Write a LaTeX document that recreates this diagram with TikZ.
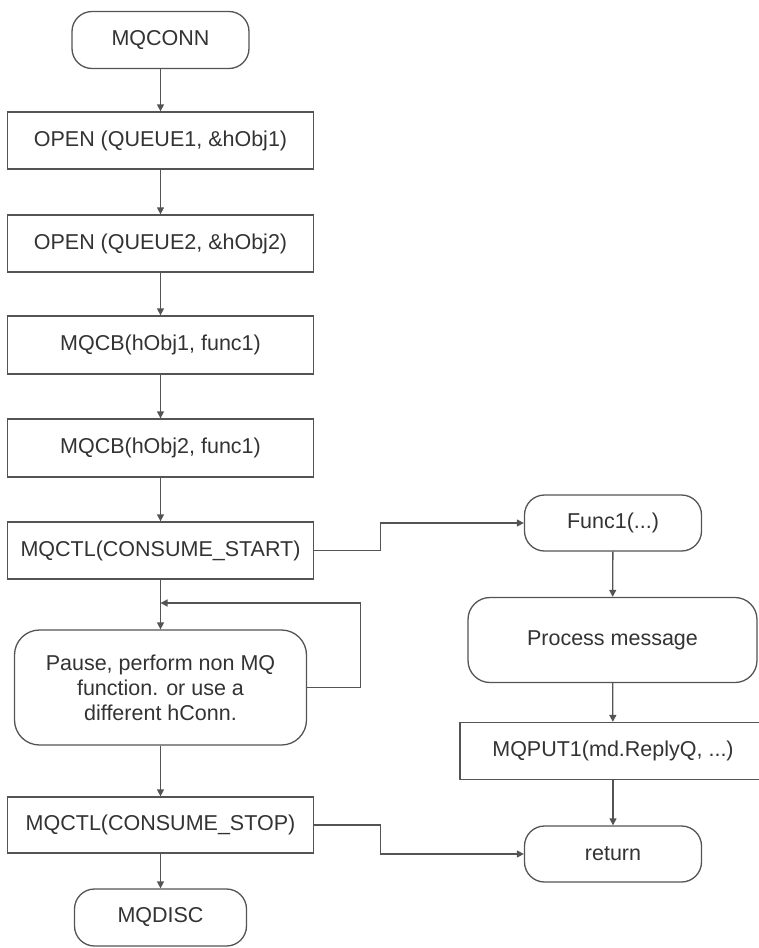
\documentclass[tikz,border=0pt]{standalone}
\usepackage{xcolor}
\usepackage{fontspec}
\setmainfont{Liberation Sans}
\usetikzlibrary{arrows.meta}

\begin{document}
\begin{tikzpicture}[x=1pt,y=-1pt,
  step box/.style={draw=cline,line width=1.3pt,fill=white,text=ctext,
    minimum width=306pt,minimum height=57pt,inner sep=0pt,
    font=\fontsize{21.5}{25}\selectfont},
  term box/.style={step box,rounded corners=20pt,minimum width=177pt},
  arr/.style={draw=cline,line width=1.3pt,-{Triangle[length=7pt,width=7pt]}}]
\definecolor{cline}{rgb}{0.33,0.33,0.33}
\definecolor{ctext}{rgb}{0.2,0.2,0.2}
\useasboundingbox (0,0) rectangle (758,948);
%
\node[term box] (conn) at (160.5,40) {MQCONN};
\node[step box] (open1) at (160.5,140.5) {OPEN (QUEUE1, \&hObj1)};
\node[step box] (open2) at (160.5,243.5) {OPEN (QUEUE2, \&hObj2)};
\node[step box,minimum height=58pt] (cb1) at (160.5,345) {MQCB(hObj1, func1)};
\node[step box,minimum height=58pt] (cb2) at (160.5,448) {MQCB(hObj2, func1)};
\node[step box] (start) at (160.5,550.5) {MQCTL(CONSUME\_START)};
\node[step box,rounded corners=25pt,minimum width=292pt,minimum height=115pt,
  align=center] (pause) at (160.5,687.5)
  {Pause, perform non MQ\\function. or use a\\different hConn.};
\node[step box,minimum height=56pt] (stop) at (160.5,825) {MQCTL(CONSUME\_STOP)};
\node[term box,minimum width=172pt] (disc) at (160.5,917.5) {MQDISC};
%
\node[term box,minimum height=56pt] (func) at (613,523) {Func1(...)};
\node[step box,rounded corners=22pt,minimum width=289pt,minimum height=85pt]
  (proc) at (612.5,640) {Process message};
\node[step box] (put) at (613,751) {MQPUT1(md.ReplyQ, ...)};
\node[term box,minimum height=56pt] (ret) at (613,854) {return};
%
\coordinate (loop) at (160.5,603);
%
\draw[arr] (conn) -- (open1);
\draw[arr] (open1) -- (open2);
\draw[arr] (open2) -- (cb1);
\draw[arr] (cb1) -- (cb2);
\draw[arr] (cb2) -- (start);
\draw[arr] (start) -- (pause);
\draw[arr] (pause.east) -- ++(53.5,0) |- (loop);
\draw[arr] (pause) -- (stop);
\draw[arr] (stop) -- (disc);
\draw[arr] (start.east) -- ++(66.5,0) |- (func.west);
\draw[arr] (stop.east) -- ++(66.5,0) |- (ret.west);
\draw[arr] (func) -- (proc);
\draw[arr] (proc) -- (put);
\draw[arr] (put) -- (ret);
%
\end{tikzpicture}
\end{document}
